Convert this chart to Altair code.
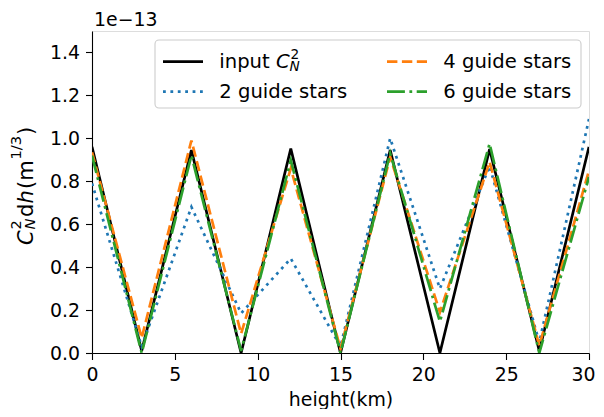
import altair as alt
import pandas as pd

# ---- data (values in units of 1e-13) ----
heights = [0, 3, 6, 9, 12, 15, 18, 21, 24, 27, 30]
input_cn2 = [0.96, 0.01, 0.945, 0.0, 0.952, 0.0, 0.945, 0.0, 0.95, 0.01, 0.96]
two_stars = [0.79, 0.03, 0.68, 0.185, 0.44, 0.03, 1.0, 0.30, 0.87, 0.05, 1.09]
four_stars = [0.935, 0.07, 0.99, 0.09, 0.86, 0.02, 0.913, 0.19, 0.89, 0.035, 0.85]
six_stars = [0.92, 0.0, 0.92, 0.01, 0.898, 0.0, 0.93, 0.146, 0.975, 0.0, 0.82]

x_ticks = [0, 5, 10, 15, 20, 25, 30]
y_ticks = [0.0, 0.2, 0.4, 0.6, 0.8, 1.0, 1.2, 1.4]

series_names = ["input", "2 guide stars", "4 guide stars", "6 guide stars"]
series_vals = [input_cn2, two_stars, four_stars, six_stars]
colors = ["#000000", "#1f77b4", "#ff7f0e", "#2ca02c"]
LW = 2.7
dashes = [None, [2.8, 4.6], [10.4, 4.5], [17.9, 4.5, 2.8, 4.5]]

FONT = "DejaVu Sans"
FS = 18.9      # axis text
LFS = 19.6     # legend text
LSS = 13.7     # legend scripts
TFS = 21.0     # y title main
TSS = 14.7     # y title scripts

W, H = 497, 322
TICK, LPAD = 6.5, 6

rows = []
for name, vals in zip(series_names, series_vals):
    for h, v in zip(heights, vals):
        rows.append({"height": h, "value": v, "series": name})
df = pd.DataFrame(rows)
one = pd.DataFrame({"a": [0]})

last_x = x_ticks[-1]
xenc = alt.X("height:Q",
             scale=alt.Scale(domain=[0, 30], nice=False, zero=False),
             axis=alt.Axis(values=x_ticks, format="d", title="height(km)",
                           labelExpr=f"datum.value == {last_x} ? '' : datum.label",
                           titleFont=FONT, titleFontSize=FS, titleFontWeight="normal",
                           titleColor="black", titlePadding=6,
                           labelFont=FONT, labelFontSize=FS, labelColor="black",
                           labelPadding=LPAD, tickSize=TICK, tickWidth=1.1, tickColor="black",
                           domainColor="black", domainWidth=1.1, grid=False, labelFlush=False))
yenc = alt.Y("value:Q",
             scale=alt.Scale(domain=[0, 1.5], nice=False, zero=False),
             axis=alt.Axis(values=y_ticks, format=".1f", title=None,
                           labelFont=FONT, labelFontSize=FS, labelColor="black",
                           labelPadding=LPAD, tickSize=TICK, tickWidth=1.1, tickColor="black",
                           domainColor="black", domainWidth=1.1, grid=False, labelFlush=False))

layers = []
for name, col, d in zip(series_names, colors, dashes):
    kw = dict(color=col, strokeWidth=LW, clip=True)
    if d:
        kw["strokeDash"] = d
    layers.append(
        alt.Chart(df).transform_filter(alt.datum.series == name)
        .mark_line(**kw).encode(x=xenc, y=yenc, order="height:Q")
    )


def txt(t, x, y, size=FS, italic=False, angle=0, align="left", baseline="middle"):
    kw = dict(text=t, align=align, baseline=baseline, fontSize=size, font=FONT,
              color="black")
    if italic:
        kw["fontStyle"] = "italic"
    if angle:
        kw["angle"] = angle
    return alt.Chart(one).mark_text(**kw).encode(x=alt.value(x), y=alt.value(y))


deco = []
# last x tick label, nudged to stay inside the page
deco.append(txt(str(last_x), W - 5.5, H + TICK + LPAD, align="center", baseline="top"))
# offset text
deco.append(txt("1e\u221213", 2, -11))

# legend frame
deco.append(alt.Chart(one).mark_rect(fill="white", fillOpacity=0.8, stroke="#cccccc",
                                     strokeWidth=1.1, cornerRadius=4)
            .encode(x=alt.value(63), x2=alt.value(489), y=alt.value(9), y2=alt.value(77)))
r1, r2 = 30.7, 60.7
leg = [(71, 111, r1, 0), (71, 111, r2, 1), (295, 335, r1, 2), (295, 335, r2, 3)]
for x1, x2, yy, i in leg:
    kw = dict(color=colors[i], strokeWidth=LW)
    if dashes[i]:
        kw["strokeDash"] = dashes[i]
    deco.append(alt.Chart(one).mark_rule(**kw)
                .encode(x=alt.value(x1), x2=alt.value(x2), y=alt.value(yy)))
deco.append(txt("input", 127.3, r1, size=LFS))
deco.append(txt("C", 184, r1, size=LFS, italic=True))
deco.append(txt("2", 198.5, r1 - 7, size=LSS))
deco.append(txt("N", 197.5, r1 + 5, size=LSS, italic=True))
deco.append(txt("2 guide stars", 127.3, r2, size=LFS))
deco.append(txt("4 guide stars", 351.3, r1, size=LFS))
deco.append(txt("6 guide stars", 351.3, r2, size=LFS))

# y-axis title built from parts (rotated, reading upward)
yx = -65
yb = 214
parts = [
    ("C", TFS, True, 0, 15.5),
    ("2", TSS, False, -10, 0),
    ("N", TSS, True, 4, 12.5),
    ("d", TFS, False, 0, 13.5),
    ("h", TFS, True, 0, 14.5),
    ("(m", TFS, False, 0, 29.5),
    ("1/3", TSS, False, -10, 24.5),
    (")", TFS, False, 0, 8.2),
]
pos = yb
for t, s, it, off, adv in parts:
    deco.append(txt(t, yx + off, pos, size=s, italic=it, angle=270))
    pos -= adv

chart = alt.layer(*layers, *deco).properties(
    width=W, height=H,
    autosize=alt.AutoSizeParams(type="none"),
    padding={"left": 84, "top": 23, "right": 7, "bottom": 56},
).configure_view(stroke="black", strokeWidth=1.1).configure(background="white")

chart.save("out.html", embed_options={"renderer": "svg", "actions": False})
